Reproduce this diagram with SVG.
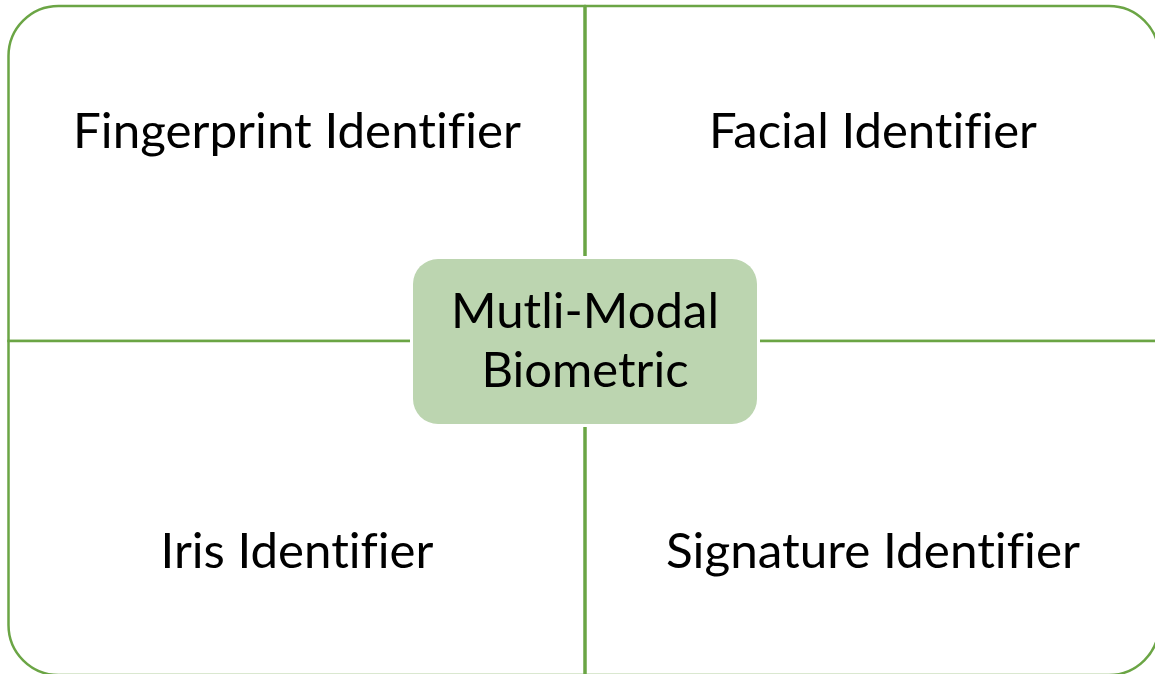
<svg xmlns="http://www.w3.org/2000/svg" width="1155" height="674" viewBox="0 0 1155 674">
  <style>
    .quad { fill: #FFFFFF; stroke: #6BA545; stroke-width: 2.5; }
    .lbl { font-family: Lato, "Open Sans", "Liberation Sans", sans-serif; font-size: 48px; fill: #000000; text-anchor: middle; font-variant-ligatures: none; font-feature-settings: "liga" 0; }
  </style>
  <rect x="0" y="0" width="1155" height="674" fill="#FFFFFF"/>
  <g id="quadrant-fingerprint">
    <path class="quad" d="M 8.5,341 V 56 A 50 50 0 0 1 58.5,6 H 584.5 V 341 Z"/>
    <text class="lbl" x="297" y="148" textLength="448" lengthAdjust="spacingAndGlyphs">Fingerprint Identifier</text>
  </g>
  <g id="quadrant-facial">
    <path class="quad" d="M 585.5,341 V 6 H 1109 A 50 50 0 0 1 1159,56 V 341 Z"/>
    <text class="lbl" x="873" y="148" textLength="328" lengthAdjust="spacingAndGlyphs">Facial Identifier</text>
  </g>
  <g id="quadrant-iris">
    <path class="quad" d="M 8.5,341 V 625 A 50 50 0 0 0 58.5,675 H 584.5 V 341 Z"/>
    <text class="lbl" x="297" y="568" textLength="273" lengthAdjust="spacingAndGlyphs">Iris Identifier</text>
  </g>
  <g id="quadrant-signature">
    <path class="quad" d="M 585.5,341 V 675 H 1109 A 50 50 0 0 0 1159,625 V 341 Z"/>
    <text class="lbl" x="873" y="568" textLength="414" lengthAdjust="spacingAndGlyphs">Signature Identifier</text>
  </g>
  <g id="center-node">
    <rect x="410" y="256" width="350" height="171" rx="28" fill="#FFFFFF"/>
    <rect x="413" y="259" width="344" height="165" rx="25" fill="#BCD5B0"/>
    <text class="lbl" x="585" y="328" textLength="268" lengthAdjust="spacingAndGlyphs">Mutli-Modal</text>
    <text class="lbl" x="585" y="387" textLength="207" lengthAdjust="spacingAndGlyphs">Biometric</text>
  </g>
</svg>
